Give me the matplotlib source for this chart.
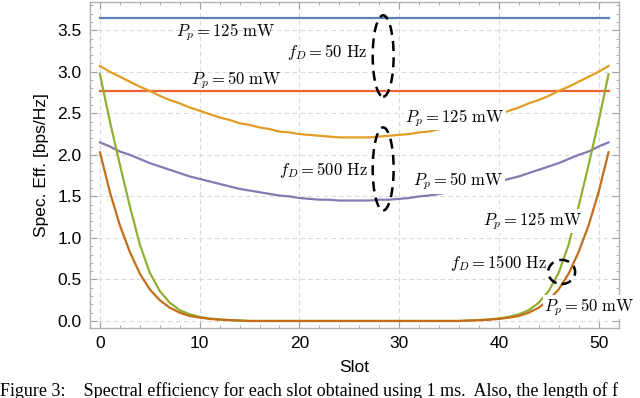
import matplotlib.pyplot as plt
from matplotlib.patches import Ellipse
from matplotlib.ticker import MultipleLocator

plt.rcParams["mathtext.fontset"] = "cm"
plt.rcParams["font.family"] = ["Liberation Sans", "DejaVu Sans"]

# --- data -----------------------------------------------------------------
slots = list(range(52))

# f_D = 50 Hz: constant
se_50hz_125mw = [3.65] * 52
se_50hz_50mw = [2.77] * 52

# f_D = 500 Hz
se_500hz_125mw = [3.07, 3.00, 2.94, 2.88, 2.82, 2.77, 2.71, 2.66, 2.62, 2.57,
                  2.53, 2.49, 2.45, 2.42, 2.38, 2.36, 2.33, 2.31, 2.28, 2.27,
                  2.25, 2.24, 2.23, 2.22, 2.21, 2.21,
                  2.21, 2.21, 2.22, 2.23, 2.24, 2.25, 2.27, 2.28, 2.31, 2.33,
                  2.36, 2.38, 2.42, 2.45, 2.49, 2.53, 2.57, 2.62, 2.66, 2.71,
                  2.77, 2.82, 2.88, 2.94, 3.00, 3.07]
se_500hz_50mw = [2.15, 2.10, 2.04, 2.00, 1.95, 1.90, 1.86, 1.82, 1.78, 1.74,
                 1.71, 1.68, 1.65, 1.62, 1.59, 1.57, 1.55, 1.53, 1.51, 1.50,
                 1.48, 1.47, 1.46, 1.46, 1.45, 1.45,
                 1.45, 1.45, 1.46, 1.46, 1.47, 1.48, 1.50, 1.51, 1.53, 1.55,
                 1.57, 1.59, 1.62, 1.65, 1.68, 1.71, 1.74, 1.78, 1.82, 1.86,
                 1.90, 1.95, 2.00, 2.04, 2.10, 2.15]

# f_D = 1500 Hz
se_1500hz_125mw = [2.97, 2.40, 1.88, 1.38, 0.92, 0.58, 0.36, 0.22, 0.13, 0.08,
                   0.05, 0.03, 0.02, 0.01, 0.005, 0.0, 0.0, 0.0, 0.0, 0.0,
                   0.0, 0.0, 0.0, 0.0, 0.0, 0.0,
                   0.0, 0.0, 0.0, 0.0, 0.0, 0.0, 0.0, 0.0, 0.0, 0.0,
                   0.0, 0.005, 0.01, 0.02, 0.03, 0.05, 0.08, 0.13, 0.22, 0.36,
                   0.58, 0.92, 1.38, 1.88, 2.40, 2.97]
se_1500hz_50mw = [2.03, 1.55, 1.15, 0.83, 0.57, 0.38, 0.25, 0.16, 0.10, 0.06,
                  0.04, 0.025, 0.015, 0.01, 0.005, 0.0, 0.0, 0.0, 0.0, 0.0,
                  0.0, 0.0, 0.0, 0.0, 0.0, 0.0,
                  0.0, 0.0, 0.0, 0.0, 0.0, 0.0, 0.0, 0.0, 0.0, 0.0,
                  0.0, 0.005, 0.01, 0.015, 0.025, 0.04, 0.06, 0.10, 0.16, 0.25,
                  0.38, 0.57, 0.83, 1.15, 1.55, 2.03]

# Mathematica default palette
C_BLUE = "#5E81B5"
C_RED = "#EB6235"
C_ORANGE = "#E19C24"
C_PURPLE = "#8778B3"
C_GREEN = "#8FB032"
C_DKORANGE = "#C56E1A"

# --- figure ---------------------------------------------------------------
fig = plt.figure(figsize=(6.4, 3.98), dpi=100)
ax = fig.add_axes([0.1406, 0.176, 0.8266, 0.819])

series = [
    (se_50hz_125mw, C_BLUE),
    (se_50hz_50mw, C_RED),
    (se_500hz_125mw, C_ORANGE),
    (se_500hz_50mw, C_PURPLE),
    (se_1500hz_125mw, C_GREEN),
    (se_1500hz_50mw, C_DKORANGE),
]
for vals, color in series:
    ax.plot(slots, vals, color=color, lw=1.6, zorder=2)

ax.set_xlim(-1.0, 52.05)
ax.set_ylim(-0.084, 3.84)
ax.xaxis.set_major_locator(MultipleLocator(10))
ax.xaxis.set_minor_locator(MultipleLocator(2))
ax.yaxis.set_major_locator(MultipleLocator(0.5))
ax.yaxis.set_minor_locator(MultipleLocator(0.1))
ax.yaxis.set_major_formatter(plt.FormatStrFormatter("%.1f"))
ax.grid(True, which="major", ls=(0, (4, 3)), color="#D9D9D9", lw=0.8)
for s in ax.spines.values():
    s.set_color("#B0B0B0")
    s.set_linewidth(1.0)
ax.tick_params(which="both", direction="in", top=True, right=True,
               color="#A0A0A0", labelsize=12.5, labelcolor="black", pad=6)
ax.tick_params(which="major", length=5, width=0.8)
ax.tick_params(which="minor", length=2.5, width=0.6)
ax.set_xlabel("Slot", fontsize=12.5, labelpad=6)
ax.set_ylabel("Spec. Eff. [bps/Hz]", fontsize=12.5, labelpad=6)

# --- annotations ----------------------------------------------------------
tkw = dict(fontsize=12, ha="center", va="center", zorder=4)
box = dict(facecolor="white", edgecolor="none", pad=1.0)
ax.text(12.6, 3.48, r"$P_p = 125\ \mathrm{mW}$", **tkw)
ax.text(13.7, 2.90, r"$P_p = 50\ \mathrm{mW}$", **tkw)
ax.text(22.8, 3.24, r"$f_D = 50\ \mathrm{Hz}$", **tkw)
ax.text(35.6, 2.44, r"$P_p = 125\ \mathrm{mW}$", bbox=box, **tkw)
ax.text(22.4, 1.82, r"$f_D = 500\ \mathrm{Hz}$", **tkw)
ax.text(35.9, 1.68, r"$P_p = 50\ \mathrm{mW}$", bbox=box, **tkw)
ax.text(43.4, 1.20, r"$P_p = 125\ \mathrm{mW}$", bbox=box, **tkw)
ax.text(40.0, 0.70, r"$f_D = 1500\ \mathrm{Hz}$", **tkw)
ax.text(49.1, 0.17, r"$P_p = 50\ \mathrm{mW}$", bbox=box, clip_on=False, **tkw)

ekw = dict(fill=False, ec="black", lw=1.8, ls=(0, (4, 2.5)), zorder=5)
ax.add_patch(Ellipse((28.4, 3.19), 2.1, 0.98, **ekw))
ax.add_patch(Ellipse((28.4, 1.83), 2.1, 1.0, **ekw))
ax.add_patch(Ellipse((46.3, 0.59), 2.7, 0.29, **ekw))

# caption (cut by the page edge in the source)
fig.text(0.0, -0.005, "Figure 3:    Spectral efficiency for each slot obtained using 1 ms.  Also, the length of f",
         fontsize=13, family="Liberation Serif", ha="left", va="bottom")

fig.savefig("out.png", dpi=100)
